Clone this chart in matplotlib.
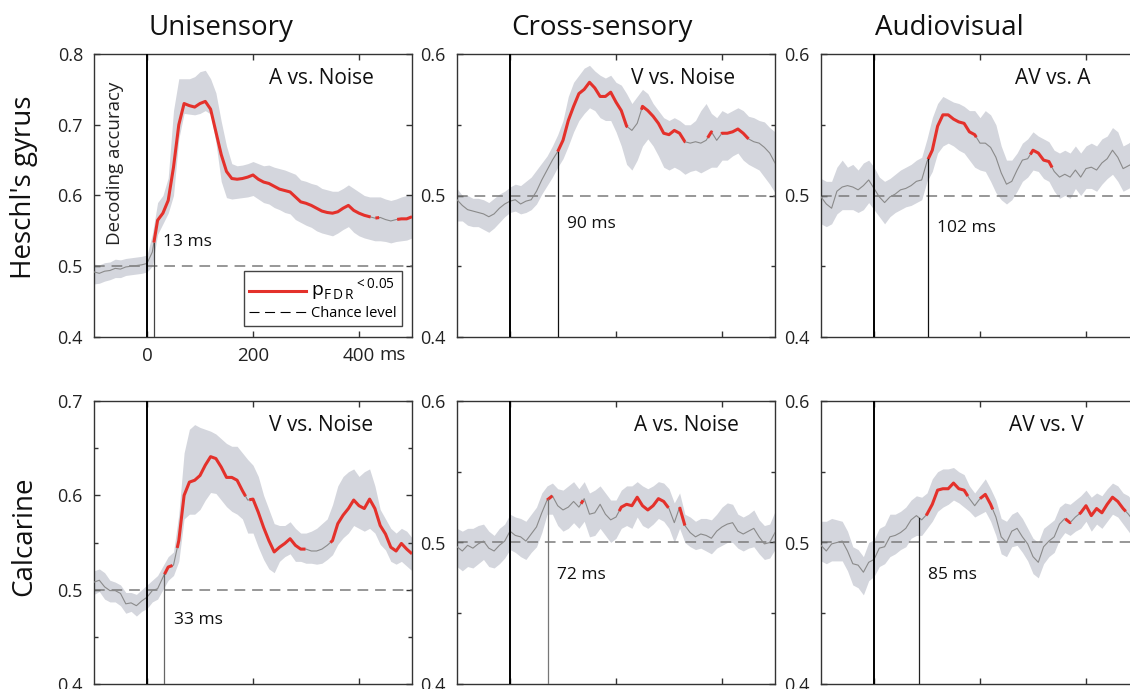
import numpy as np
import matplotlib
matplotlib.use('Agg')
import matplotlib.pyplot as plt
from matplotlib.lines import Line2D
from matplotlib.ticker import MultipleLocator

plt.rcParams['font.family'] = ['Open Sans', 'DejaVu Sans']
plt.rcParams['mathtext.fontset'] = 'custom'
plt.rcParams['mathtext.rm'] = 'Open Sans'

# time axis (ms)
t = np.arange(-100, 501, 10)

# Heschl's gyrus - A vs. Noise
m1 = [0.492, 0.490, 0.493, 0.494, 0.497, 0.496, 0.499, 0.500, 0.501, 0.502,
      0.504, 0.520, 0.565, 0.575, 0.593, 0.640, 0.700, 0.730, 0.727, 0.725,
      0.730, 0.733, 0.722, 0.690, 0.658, 0.634, 0.624, 0.623, 0.624, 0.626,
      0.629, 0.623, 0.619, 0.617, 0.613, 0.609, 0.607, 0.605, 0.598, 0.591,
      0.589, 0.586, 0.582, 0.578, 0.576, 0.575, 0.577, 0.582, 0.586, 0.579,
      0.575, 0.572, 0.570, 0.568, 0.569, 0.566, 0.564, 0.566, 0.567, 0.567,
      0.570]
hi1 = [0.503, 0.502, 0.505, 0.506, 0.510, 0.509, 0.511, 0.512, 0.513, 0.514,
       0.516, 0.545, 0.590, 0.600, 0.625, 0.720, 0.765, 0.765, 0.765, 0.768,
       0.775, 0.777, 0.765, 0.745, 0.705, 0.670, 0.645, 0.642, 0.643, 0.645,
       0.648, 0.645, 0.642, 0.643, 0.640, 0.638, 0.636, 0.633, 0.630, 0.622,
       0.620, 0.617, 0.615, 0.610, 0.608, 0.606, 0.606, 0.610, 0.615, 0.610,
       0.605, 0.600, 0.598, 0.598, 0.598, 0.595, 0.593, 0.595, 0.598, 0.600,
       0.600]
lo1 = [0.475, 0.476, 0.479, 0.481, 0.484, 0.484, 0.487, 0.488, 0.489, 0.490,
       0.492, 0.500, 0.545, 0.560, 0.575, 0.600, 0.680, 0.716, 0.715, 0.714,
       0.716, 0.720, 0.715, 0.675, 0.620, 0.597, 0.595, 0.596, 0.597, 0.598,
       0.600, 0.595, 0.590, 0.588, 0.583, 0.580, 0.576, 0.574, 0.566, 0.562,
       0.558, 0.555, 0.550, 0.547, 0.545, 0.543, 0.547, 0.552, 0.556, 0.548,
       0.543, 0.540, 0.538, 0.536, 0.536, 0.535, 0.533, 0.535, 0.536, 0.537,
       0.540]
sig1 = [(13, 422), (431, 438), (472, 500)]

# Heschl's gyrus - V vs. Noise
m2 = [0.497, 0.493, 0.490, 0.489, 0.488, 0.487, 0.485, 0.487, 0.491, 0.494,
      0.496, 0.497, 0.494, 0.496, 0.497, 0.503, 0.511, 0.518, 0.525, 0.531,
      0.539, 0.553, 0.563, 0.572, 0.575, 0.580, 0.576, 0.570, 0.570, 0.573,
      0.566, 0.560, 0.549, 0.546, 0.551, 0.563, 0.560, 0.556, 0.551, 0.544,
      0.543, 0.546, 0.544, 0.538, 0.537, 0.538, 0.537, 0.539, 0.545, 0.539,
      0.544, 0.544, 0.545, 0.547, 0.544, 0.540, 0.538, 0.537, 0.534, 0.530,
      0.523]
hi2 = [0.505, 0.500, 0.500, 0.498, 0.498, 0.497, 0.495, 0.498, 0.501, 0.503,
       0.506, 0.508, 0.507, 0.510, 0.513, 0.518, 0.523, 0.528, 0.535, 0.543,
       0.553, 0.570, 0.580, 0.585, 0.590, 0.592, 0.588, 0.585, 0.583, 0.585,
       0.580, 0.578, 0.572, 0.565, 0.570, 0.575, 0.572, 0.565, 0.560, 0.555,
       0.553, 0.555, 0.553, 0.550, 0.550, 0.553, 0.560, 0.565, 0.558, 0.555,
       0.560, 0.558, 0.560, 0.562, 0.560, 0.556, 0.555, 0.553, 0.552, 0.548,
       0.545]
lo2 = [0.482, 0.482, 0.479, 0.478, 0.478, 0.476, 0.474, 0.477, 0.481, 0.485,
       0.488, 0.489, 0.487, 0.488, 0.490, 0.494, 0.501, 0.507, 0.513, 0.520,
       0.526, 0.535, 0.545, 0.553, 0.558, 0.562, 0.560, 0.555, 0.553, 0.553,
       0.545, 0.535, 0.522, 0.518, 0.525, 0.535, 0.540, 0.535, 0.528, 0.520,
       0.518, 0.520, 0.518, 0.515, 0.517, 0.518, 0.516, 0.518, 0.520, 0.520,
       0.525, 0.525, 0.528, 0.530, 0.525, 0.522, 0.520, 0.518, 0.513, 0.508,
       0.502]
sig2 = [(90, 222), (248, 331), (373, 381), (399, 450)]

# Heschl's gyrus - AV vs. A
m3 = [0.499, 0.494, 0.491, 0.503, 0.506, 0.507, 0.506, 0.504, 0.507, 0.511,
      0.505, 0.499, 0.495, 0.499, 0.501, 0.504, 0.505, 0.507, 0.510, 0.511,
      0.524, 0.532, 0.549, 0.557, 0.557, 0.554, 0.552, 0.551, 0.545, 0.543,
      0.537, 0.537, 0.534, 0.527, 0.516, 0.508, 0.510, 0.518, 0.525, 0.526,
      0.532, 0.530, 0.525, 0.524, 0.517, 0.513, 0.515, 0.513, 0.518, 0.513,
      0.519, 0.520, 0.518, 0.523, 0.526, 0.532, 0.527, 0.519, 0.521, 0.523,
      0.522]
hi3 = [0.512, 0.510, 0.510, 0.520, 0.525, 0.520, 0.522, 0.518, 0.523, 0.525,
       0.520, 0.513, 0.510, 0.512, 0.515, 0.518, 0.520, 0.522, 0.525, 0.527,
       0.540, 0.555, 0.565, 0.570, 0.568, 0.566, 0.565, 0.563, 0.560, 0.560,
       0.555, 0.560, 0.557, 0.550, 0.535, 0.525, 0.525, 0.530, 0.537, 0.540,
       0.545, 0.542, 0.540, 0.538, 0.532, 0.530, 0.532, 0.530, 0.535, 0.530,
       0.535, 0.537, 0.535, 0.540, 0.542, 0.548, 0.545, 0.535, 0.537, 0.540,
       0.540]
lo3 = [0.480, 0.478, 0.480, 0.487, 0.490, 0.490, 0.490, 0.488, 0.490, 0.495,
       0.490, 0.485, 0.480, 0.485, 0.488, 0.490, 0.492, 0.493, 0.495, 0.497,
       0.510, 0.517, 0.530, 0.535, 0.537, 0.535, 0.532, 0.530, 0.525, 0.520,
       0.518, 0.517, 0.510, 0.502, 0.497, 0.494, 0.497, 0.503, 0.510, 0.513,
       0.518, 0.517, 0.512, 0.510, 0.503, 0.498, 0.500, 0.498, 0.505, 0.500,
       0.505, 0.505, 0.503, 0.508, 0.512, 0.515, 0.510, 0.503, 0.505, 0.507,
       0.505]
sig3 = [(102, 193), (295, 336)]

# Calcarine - V vs. Noise
m4 = [0.508, 0.510, 0.503, 0.499, 0.499, 0.496, 0.485, 0.486, 0.483, 0.488,
      0.492, 0.499, 0.501, 0.513, 0.524, 0.526, 0.552, 0.600, 0.614, 0.616,
      0.621, 0.632, 0.641, 0.639, 0.630, 0.619, 0.619, 0.616, 0.605, 0.595,
      0.596, 0.582, 0.566, 0.552, 0.540, 0.545, 0.549, 0.554, 0.547, 0.543,
      0.543, 0.541, 0.541, 0.543, 0.547, 0.552, 0.570, 0.579, 0.586, 0.595,
      0.589, 0.586, 0.596, 0.586, 0.568, 0.559, 0.545, 0.541, 0.549, 0.543,
      0.538]
hi4 = [0.520, 0.522, 0.518, 0.510, 0.508, 0.505, 0.497, 0.497, 0.495, 0.500,
       0.505, 0.510, 0.515, 0.525, 0.535, 0.540, 0.580, 0.645, 0.670, 0.675,
       0.672, 0.670, 0.668, 0.665, 0.660, 0.655, 0.652, 0.652, 0.645, 0.638,
       0.632, 0.620, 0.600, 0.585, 0.570, 0.568, 0.568, 0.572, 0.565, 0.560,
       0.560, 0.562, 0.565, 0.570, 0.575, 0.590, 0.610, 0.620, 0.625, 0.628,
       0.620, 0.625, 0.628, 0.610, 0.585, 0.575, 0.565, 0.560, 0.565, 0.562,
       0.555]
lo4 = [0.495, 0.498, 0.490, 0.487, 0.487, 0.483, 0.475, 0.477, 0.472, 0.477,
       0.480, 0.487, 0.490, 0.500, 0.510, 0.515, 0.530, 0.575, 0.580, 0.580,
       0.585, 0.595, 0.603, 0.602, 0.595, 0.588, 0.583, 0.580, 0.575, 0.560,
       0.560, 0.545, 0.532, 0.522, 0.518, 0.530, 0.535, 0.538, 0.530, 0.530,
       0.528, 0.528, 0.527, 0.528, 0.532, 0.537, 0.548, 0.555, 0.560, 0.568,
       0.565, 0.562, 0.565, 0.560, 0.548, 0.542, 0.530, 0.527, 0.530, 0.525,
       0.520]
sig4 = [(33, 48), (57, 186), (193, 299), (346, 500)]

# Calcarine - A vs. Noise
m5 = [0.497, 0.494, 0.498, 0.496, 0.499, 0.501, 0.496, 0.494, 0.498, 0.501,
      0.508, 0.505, 0.504, 0.501, 0.506, 0.511, 0.521, 0.530, 0.533, 0.526,
      0.523, 0.525, 0.529, 0.525, 0.531, 0.520, 0.521, 0.527, 0.520, 0.516,
      0.518, 0.525, 0.527, 0.526, 0.532, 0.526, 0.523, 0.526, 0.531, 0.529,
      0.524, 0.514, 0.525, 0.512, 0.507, 0.504, 0.506, 0.505, 0.503, 0.508,
      0.511, 0.513, 0.514, 0.508, 0.506, 0.508, 0.510, 0.504, 0.499, 0.500,
      0.507]
hi5 = [0.510, 0.508, 0.510, 0.510, 0.512, 0.513, 0.508, 0.505, 0.510, 0.513,
       0.520, 0.518, 0.517, 0.515, 0.520, 0.525, 0.535, 0.540, 0.542, 0.538,
       0.537, 0.540, 0.543, 0.538, 0.543, 0.535, 0.537, 0.540, 0.535, 0.530,
       0.530, 0.537, 0.540, 0.540, 0.543, 0.540, 0.538, 0.540, 0.543, 0.542,
       0.538, 0.528, 0.535, 0.520, 0.518, 0.515, 0.517, 0.517, 0.516, 0.520,
       0.525, 0.528, 0.527, 0.520, 0.518, 0.520, 0.523, 0.516, 0.512, 0.513,
       0.522]
lo5 = [0.483, 0.480, 0.483, 0.482, 0.485, 0.488, 0.483, 0.482, 0.485, 0.489,
       0.495, 0.493, 0.490, 0.488, 0.493, 0.497, 0.507, 0.520, 0.520, 0.512,
       0.508, 0.510, 0.514, 0.510, 0.515, 0.504, 0.505, 0.510, 0.505, 0.500,
       0.503, 0.510, 0.512, 0.510, 0.518, 0.512, 0.510, 0.513, 0.517, 0.515,
       0.510, 0.500, 0.510, 0.500, 0.497, 0.495, 0.496, 0.494, 0.492, 0.496,
       0.498, 0.500, 0.500, 0.496, 0.494, 0.496, 0.497, 0.492, 0.488, 0.489,
       0.495]
sig5 = [(70, 80), (134, 138), (206, 299), (320, 330)]

# Calcarine - AV vs. V
m6 = [0.498, 0.494, 0.499, 0.500, 0.501, 0.494, 0.485, 0.484, 0.479, 0.486,
      0.488, 0.496, 0.497, 0.504, 0.505, 0.507, 0.510, 0.516, 0.519, 0.516,
      0.520, 0.527, 0.537, 0.538, 0.538, 0.542, 0.538, 0.537, 0.531, 0.526,
      0.531, 0.534, 0.527, 0.518, 0.504, 0.500, 0.508, 0.510, 0.504, 0.499,
      0.490, 0.486, 0.497, 0.501, 0.504, 0.513, 0.517, 0.514, 0.518, 0.521,
      0.526, 0.519, 0.524, 0.521, 0.527, 0.532, 0.529, 0.524, 0.520, 0.515,
      0.510]
hi6 = [0.515, 0.515, 0.517, 0.516, 0.515, 0.508, 0.497, 0.495, 0.490, 0.500,
       0.502, 0.510, 0.512, 0.520, 0.520, 0.522, 0.525, 0.530, 0.533, 0.532,
       0.535, 0.545, 0.550, 0.552, 0.552, 0.553, 0.550, 0.548, 0.540, 0.535,
       0.540, 0.545, 0.538, 0.530, 0.517, 0.515, 0.520, 0.522, 0.517, 0.510,
       0.503, 0.500, 0.510, 0.513, 0.516, 0.525, 0.528, 0.527, 0.530, 0.533,
       0.537, 0.532, 0.535, 0.533, 0.538, 0.542, 0.540, 0.535, 0.533, 0.528,
       0.525]
lo6 = [0.487, 0.485, 0.487, 0.487, 0.487, 0.480, 0.470, 0.468, 0.463, 0.473,
       0.476, 0.483, 0.485, 0.490, 0.492, 0.495, 0.497, 0.503, 0.505, 0.505,
       0.510, 0.515, 0.522, 0.525, 0.527, 0.530, 0.528, 0.525, 0.522, 0.518,
       0.520, 0.522, 0.515, 0.505, 0.492, 0.490, 0.497, 0.498, 0.493, 0.487,
       0.478, 0.475, 0.485, 0.490, 0.493, 0.502, 0.507, 0.505, 0.508, 0.510,
       0.515, 0.508, 0.513, 0.510, 0.515, 0.520, 0.518, 0.513, 0.508, 0.503,
       0.498]
sig6 = [(98, 177), (200, 224), (361, 371), (387, 475)]

comparisons = ['A vs. Noise', 'V vs. Noise', 'AV vs. A',
               'V vs. Noise', 'A vs. Noise', 'AV vs. V']
onsets = [13, 90, 102, 33, 72, 85]
col_titles = ['Unisensory', 'Cross-sensory', 'Audiovisual']
row_titles = ["Heschl's gyrus", 'Calcarine']
ylims = [(0.4, 0.8), (0.4, 0.6), (0.4, 0.6), (0.4, 0.7), (0.4, 0.6), (0.4, 0.6)]

means = [m1, m2, m3, m4, m5, m6]
his = [hi1, hi2, hi3, hi4, hi5, hi6]
los = [lo1, lo2, lo3, lo4, lo5, lo6]
sigs = [sig1, sig2, sig3, sig4, sig5, sig6]

RED = '#e4312b'
SHADE = '#d4d6dd'
W, H = 1130, 689

fig = plt.figure(figsize=(W / 100, H / 100), dpi=100)

lefts = [94, 457, 821]
tops = [54, 401]
aw, ah = 318, 283

# label positions (axes fraction) and onset-label placement (y value)
comp_x = [0.714, 0.71, 0.73, 0.713, 0.723, 0.708]
onset_lab_y = [0.534, 0.48, 0.477, 0.468, 0.477, 0.477]
onset_col = ['#444444', '#111111', '#111111', '#666666', '#777777', '#222222']

for i in range(6):
    r, c = divmod(i, 3)
    ax = fig.add_axes([lefts[c] / W, 1 - (tops[r] + ah) / H, aw / W, ah / H])
    mean = np.array(means[i])
    y0, y1 = ylims[i]

    ax.fill_between(t, los[i], his[i], color=SHADE, lw=0, zorder=1)
    ax.axhline(0.5, color='#7a7a7a', lw=1.1, dashes=(7, 4.5), zorder=2)
    ax.plot(t, mean, color='#8a8a8a', lw=0.8, zorder=3)
    for a, b in sigs[i]:
        ts = np.concatenate([[a], t[(t > a) & (t < b)], [b]])
        ax.plot(ts, np.interp(ts, t, mean), color=RED, lw=2.2,
                solid_capstyle='butt', zorder=4)

    ax.axvline(0, color='black', lw=1.4, zorder=5)
    on = onsets[i]
    ax.plot([on, on], [y0, np.interp(on, t, mean)], color=onset_col[i],
            lw=0.9, zorder=5)
    ax.text(on + 17, onset_lab_y[i], f'{on} ms', fontsize=12.5,
            va='center', ha='left', color='#111111')
    ax.text(comp_x[i], 0.915, comparisons[i], transform=ax.transAxes,
            fontsize=15, ha='center', va='center', color='#111111')

    ax.set_xlim(-100, 500)
    ax.set_ylim(y0, y1)
    ax.set_xticks([0, 200, 400])
    ax.yaxis.set_major_locator(MultipleLocator(0.1))
    if i > 0:
        ax.yaxis.set_minor_locator(MultipleLocator(0.05))
    ax.tick_params(which='both', direction='in', top=True, right=True,
                   length=4, width=1, colors='#333333', labelcolor='#222222',
                   labelsize=13, pad=8)
    ax.tick_params(axis='x', labelsize=13.5, pad=7)
    ax.tick_params(which='minor', length=3)
    ax.set_yticklabels([f'{v:.1f}' for v in ax.get_yticks()])
    if i == 0:
        ax.set_xticklabels(['0', '200', '400'])
        ax.text(438, -0.062, 'ms', transform=ax.get_xaxis_transform(),
                fontsize=13.5, ha='left', va='center', color='#222222')
        ax.text(-60, 0.646, 'Decoding accuracy', rotation=90, fontsize=13.5,
                ha='center', va='center', color='#222222')
        handles = [Line2D([], [], color=RED, lw=2.2),
                   Line2D([], [], color='black', lw=0.8, dashes=(9, 5))]
        labels = [r'${\mathrm{p}_{\mathrm{F\,D\,R}}}^{\mathrm{<0.05}}$',
                  'Chance level']
        leg = ax.legend(handles, labels, loc='lower right',
                        bbox_to_anchor=(0.969, 0.039), borderaxespad=0,
                        fontsize=10.5, handlelength=3.9, handletextpad=0.4,
                        fancybox=False, framealpha=1, edgecolor='#444444',
                        borderpad=0.35, labelspacing=0.2)
        leg.get_texts()[0].set_fontsize(14)
        leg.get_frame().set_linewidth(1.0)
    else:
        ax.set_xticklabels([])
    for s in ax.spines.values():
        s.set_color('#333333')
        s.set_linewidth(1.0)

title_x = [221, 602, 949]
for c in range(3):
    fig.text(title_x[c] / W, 1 - 28 / H, col_titles[c], fontsize=20,
             ha='center', va='center', color='#111111')
row_y = [187, 536]
for r in range(2):
    fig.text(24 / W, 1 - row_y[r] / H, row_titles[r], fontsize=20, rotation=90,
             ha='center', va='center', color='#111111')

fig.savefig('out.png', dpi=100)
